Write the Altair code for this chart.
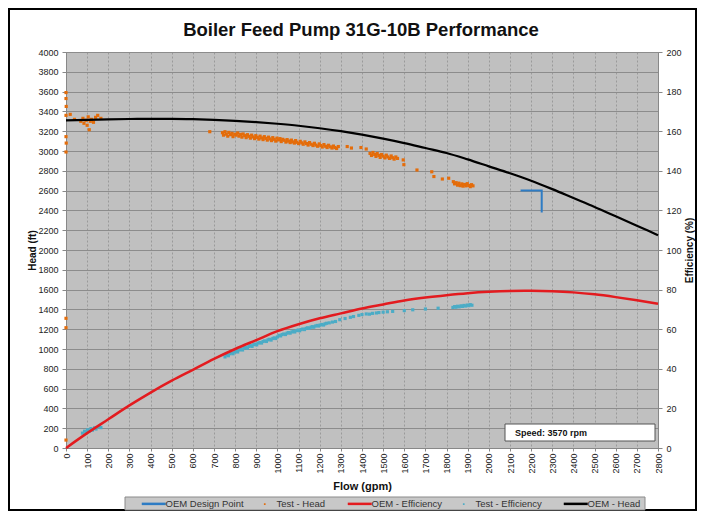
import altair as alt
import pandas as pd

# ---------------- data ----------------
flow_curve = list(range(0, 2801, 100))
oem_head = [3310, 3315, 3320, 3323, 3325, 3325, 3322, 3315, 3305, 3292, 3275, 3255, 3230, 3200, 3165,
            3125, 3080, 3030, 2980, 2915, 2845, 2775, 2700, 2615, 2525, 2435, 2340, 2245, 2150]
oem_eff = [0, 7.5, 14.5, 21.5, 28, 34, 39.5, 45, 50, 54.5, 59, 62.5, 65.5, 68, 70.5,
           72.5, 74.5, 76, 77.2, 78.2, 78.9, 79.3, 79.4, 79.2, 78.6, 77.6, 76.2, 74.6, 72.8]

design_flow = [2150, 2250, 2250]
design_head = [2600, 2600, 2380]

test_head_flow = [
    0, 0, 1, 0, 0, 1, 0, 0, 0, 0,
    20, 40, 70, 80, 85, 95, 100, 105, 110, 115, 120, 130, 140, 150, 165,
    680,
    740, 745, 752, 758, 765, 770, 778, 785, 790, 798, 805, 812, 818, 825, 832, 838, 845, 852, 858, 865,
    872, 878, 885, 892, 898, 905, 912, 918, 925, 932, 938, 945, 952, 958, 965, 972, 978, 985, 992, 998,
    1005, 1012, 1018, 1025, 1032, 1040, 1046, 1052, 1060, 1066, 1072, 1080, 1086, 1092, 1100, 1108,
    1115, 1122, 1130, 1138, 1145, 1152, 1160, 1168, 1175, 1182, 1190, 1198, 1205, 1212, 1220, 1228,
    1235, 1242, 1250, 1258, 1265, 1272, 1280, 1288,
    1330, 1350, 1395, 1420,
    1438, 1445, 1452, 1460, 1466, 1472, 1480, 1486, 1492, 1500, 1508, 1515, 1522, 1530, 1538, 1545,
    1552, 1560, 1568,
    1595, 1598, 1660, 1730, 1740, 1780, 1810,
    1832, 1838, 1845, 1852, 1858, 1865, 1872, 1878, 1885, 1892, 1898, 1905, 1912, 1918, 1925,
]
test_head_ft = [
    3590, 3530, 3450, 3360, 3145, 3080, 2990, 1310, 1215, 80,
    3370, 3320, 3300, 3330, 3280, 3310, 3260, 3345, 3215, 3300, 3320, 3290, 3340, 3360, 3330,
    3195,
    3185, 3160, 3195, 3170, 3150, 3188, 3165, 3178, 3145, 3170, 3160, 3182, 3150, 3168, 3140, 3172,
    3155, 3135, 3165, 3148, 3130, 3160, 3142, 3125, 3155, 3138, 3120, 3150, 3132, 3115, 3145, 3128,
    3110, 3140, 3122, 3105, 3135, 3118, 3100, 3130, 3112, 3125, 3095, 3118, 3108, 3090, 3115, 3100,
    3085, 3110, 3092, 3080, 3105, 3088, 3075, 3098, 3082, 3068, 3092, 3075, 3060, 3085, 3068, 3055,
    3078, 3060, 3048, 3072, 3055, 3040, 3065, 3048, 3035, 3058, 3042, 3030, 3050, 3035, 3025, 3045,
    3045, 3030, 3035, 3020,
    2975, 2955, 2985, 2965, 2945, 2975, 2955, 2935, 2965, 2948, 2930, 2958, 2940, 2925, 2950, 2932,
    2918, 2940, 2925,
    2910, 2862, 2808, 2790, 2742, 2717, 2725,
    2690, 2668, 2680, 2655, 2675, 2650, 2668, 2645, 2662, 2648, 2670, 2652, 2640, 2660, 2648,
]

test_eff_flow = [
    78, 88, 95, 102, 110, 118, 125, 135, 142, 155, 165,
    752, 760, 768, 775, 782, 790, 798, 805, 812, 820, 828, 835, 842, 850, 858, 865, 872, 880, 888, 895,
    902, 910, 918, 925, 932, 940, 948, 955, 962, 970, 978, 985, 992, 1000, 1008, 1015, 1022, 1030,
    1038, 1045, 1052, 1060, 1068, 1075, 1082, 1090, 1098, 1105, 1112, 1120, 1128, 1135, 1142, 1150,
    1158, 1165, 1172, 1180, 1188, 1195, 1202, 1210, 1218, 1225, 1232, 1245, 1260, 1275,
    1295, 1320, 1345, 1360, 1385, 1400, 1420, 1435, 1450, 1468, 1480, 1500, 1520, 1545, 1600, 1640,
    1700, 1760,
    1830, 1838, 1845, 1852, 1860, 1868, 1875, 1882, 1890, 1898, 1905, 1912, 1920,
]
test_eff_pct = [
    7.5, 8.5, 7.8, 9.2, 8.6, 9.8, 9.0, 10.2, 9.6, 10.8, 10.3,
    46.0, 47.0, 46.6, 47.6, 48.0, 47.6, 48.5, 48.9, 48.5, 49.5, 49.9, 49.5, 50.4, 50.8, 50.4, 51.3,
    51.7, 51.3, 52.2, 52.5, 52.1, 53.0, 53.3, 53.0, 53.8, 54.1, 53.8, 54.6, 54.9, 54.5, 55.3, 55.6,
    55.3, 56.1, 56.9, 56.6, 57.3, 57.6, 57.3, 58.0, 58.3, 58.0, 58.6, 58.9, 58.6, 59.3, 59.6, 59.2,
    59.8, 60.1, 59.8, 60.4, 60.7, 60.4, 61.0, 61.3, 61.0, 61.6, 61.9, 61.6, 62.1, 62.4, 62.1, 62.7,
    63.0, 63.2, 63.6, 63.9,
    64.8, 65.4, 66.0, 66.4, 67.0, 67.4, 67.7, 67.6, 68.0, 68.2, 68.4, 68.6, 68.8, 69.0, 69.4, 69.8,
    70.2, 70.6,
    71.0, 71.4, 71.1, 71.6, 71.3, 71.8, 71.5, 72.0, 71.7, 72.2, 71.9, 72.4, 72.1,
]

series_names = ["OEM Design Point", "Test - Head", "OEM - Efficiency", "Test - Efficiency", "OEM - Head"]
series_colors = ["#2e7cc4", "#e46c0a", "#e31b1f", "#4bacc6", "#000000"]

chart_title = "Boiler Feed Pump 31G-10B Performance"
speed_text = "Speed: 3570 rpm"

# ---------------- tables ----------------
df_head = pd.DataFrame({"flow": flow_curve, "value": oem_head, "series": "OEM - Head"})
df_eff = pd.DataFrame({"flow": flow_curve, "value": oem_eff, "series": "OEM - Efficiency"})
df_design = pd.DataFrame({"flow": design_flow, "value": design_head, "series": "OEM Design Point",
                          "order": list(range(len(design_flow)))})
df_thead = pd.DataFrame({"flow": test_head_flow, "value": test_head_ft, "series": "Test - Head"})
df_teff = pd.DataFrame({"flow": test_eff_flow, "value": test_eff_pct, "series": "Test - Efficiency"})
df_speed = pd.DataFrame({"t": [speed_text]})
df_title = pd.DataFrame({"t": [chart_title]})

FONT = "Liberation Sans"
is_point = "indexof(['Test - Head','Test - Efficiency'], datum.label) >= 0"
small_square = "M-0.07,-0.07H0.07V0.07H-0.07Z"

legend = alt.Legend(
    title=None, orient="none", legendX=83, legendY=447, direction="horizontal", columns=5,
    symbolType=alt.ExprRef(expr=f"{is_point} ? '{small_square}' : 'stroke'"),
    symbolSize=576,
    symbolStrokeWidth=alt.ExprRef(expr=f"{is_point} ? 0 : 2.5"),
    symbolFillColor=alt.ExprRef(expr="scale('color', datum.value)"),
    symbolStrokeColor=alt.ExprRef(expr="scale('color', datum.value)"),
    symbolOpacity=1,
    labelOffset=7, columnPadding=16,
    padding=0, labelFont=FONT, labelFontSize=9.5, labelColor="#333333",
)
color = alt.Color("series:N", scale=alt.Scale(domain=series_names, range=series_colors), legend=legend)

x_enc = alt.X("flow:Q", scale=alt.Scale(domain=[0, 2800], nice=False, zero=False),
              axis=alt.Axis(values=list(range(0, 2801, 100)), format="d", labelAngle=270,
                            title="Flow (gpm)",
                            grid=True, gridDash=[2, 2], gridColor="#9a9a9a", gridWidth=1,
                            labelFont=FONT, labelFontSize=9, labelColor="#222222",
                            tickSize=3, tickColor="#888888", labelPadding=2,
                            domainColor="#888888", titleFont=FONT, titleFontSize=11,
                            titleFontWeight="bold", titlePadding=7, titleColor="#111111",
                            labelFlush=False, labelOverlap=False))

y_head = alt.Y("value:Q", scale=alt.Scale(domain=[0, 4000], nice=False),
               axis=alt.Axis(values=list(range(0, 4001, 200)), format="d", title="Head (ft)",
                             grid=True,
                             gridColor="#8c8c8c", gridWidth=1, labelFont=FONT, labelFontSize=9,
                             labelColor="#222222", tickSize=4, tickColor="#888888", labelPadding=4,
                             domainColor="#888888", titleFont=FONT, titleFontSize=10,
                             titleFontWeight="bold", titlePadding=0, titleColor="#111111",
                             labelFlush=False, labelOverlap=False))

y_eff = alt.Y("value:Q", scale=alt.Scale(domain=[0, 200], nice=False),
              axis=alt.Axis(orient="right", values=list(range(0, 201, 20)), format="d",
                            title="Efficiency (%)",
                            grid=False, labelFont=FONT, labelFontSize=9, labelColor="#222222",
                            tickSize=4, tickColor="#888888", labelPadding=4, domainColor="#888888",
                            titleFont=FONT, titleFontSize=10, titleFontWeight="bold",
                            titlePadding=3, titleAngle=270, titleBaseline="top",
                            titleColor="#111111", labelFlush=False, labelOverlap=False))

# decorations (frame, title, legend box, speed box)
frame = alt.Chart(df_speed).mark_rect(fill=None, stroke="#000000", strokeWidth=2).encode(
    x=alt.value(-57), x2=alt.value(630), y=alt.value(-43), y2=alt.value(458))
title_txt = alt.Chart(df_title).mark_text(align="center", baseline="alphabetic", font=FONT,
                                          fontSize=18.5, fontWeight="bold", color="#111111").encode(
    x=alt.value(295), y=alt.value(-16), text="t:N")
legend_bg = alt.Chart(df_speed).mark_rect(fill="#c8c8c8", stroke="#8a8a8a", strokeWidth=1).encode(
    x=alt.value(59), x2=alt.value(579), y=alt.value(445), y2=alt.value(458))
speed_box = alt.Chart(df_speed).mark_rect(fill="#ffffff", stroke="#555555", strokeWidth=1).encode(
    x=alt.value(439), x2=alt.value(589), y=alt.value(372), y2=alt.value(389))
speed_lbl = alt.Chart(df_speed).mark_text(align="left", baseline="middle", font=FONT, fontSize=9,
                                          fontWeight="bold", color="#111111").encode(
    x=alt.value(449), y=alt.value(381), text="t:N")

thead_pts = alt.Chart(df_thead).mark_square(size=10, opacity=1).encode(x=x_enc, y=y_head, color=color)
head_line = alt.Chart(df_head).mark_line(strokeWidth=2.2, interpolate="monotone").encode(
    x=x_enc, y=y_head, color=color)
design_line = alt.Chart(df_design).mark_line(strokeWidth=2).encode(
    x=x_enc, y=y_head, color=color, order="order:Q")

head_group = alt.layer(frame, title_txt, legend_bg, thead_pts, head_line, design_line,
                       speed_box, speed_lbl)

teff_pts = alt.Chart(df_teff).mark_square(size=10, opacity=1).encode(x=x_enc, y=y_eff, color=color)
eff_line = alt.Chart(df_eff).mark_line(strokeWidth=2.5, interpolate="monotone").encode(
    x=x_enc, y=y_eff, color=color)
eff_group = alt.layer(teff_pts, eff_line)

chart = alt.layer(head_group, eff_group).resolve_scale(y="independent").properties(
    width=592, height=396,
    padding={"left": 58, "top": 44, "right": 39, "bottom": 63},
    autosize=alt.AutoSizeParams(type="none"),
    background="#ffffff",
).configure_view(fill="#c0c0c0", stroke="#8a8a8a")

chart.save("out.html", embed_options={"renderer": "svg", "actions": False})
